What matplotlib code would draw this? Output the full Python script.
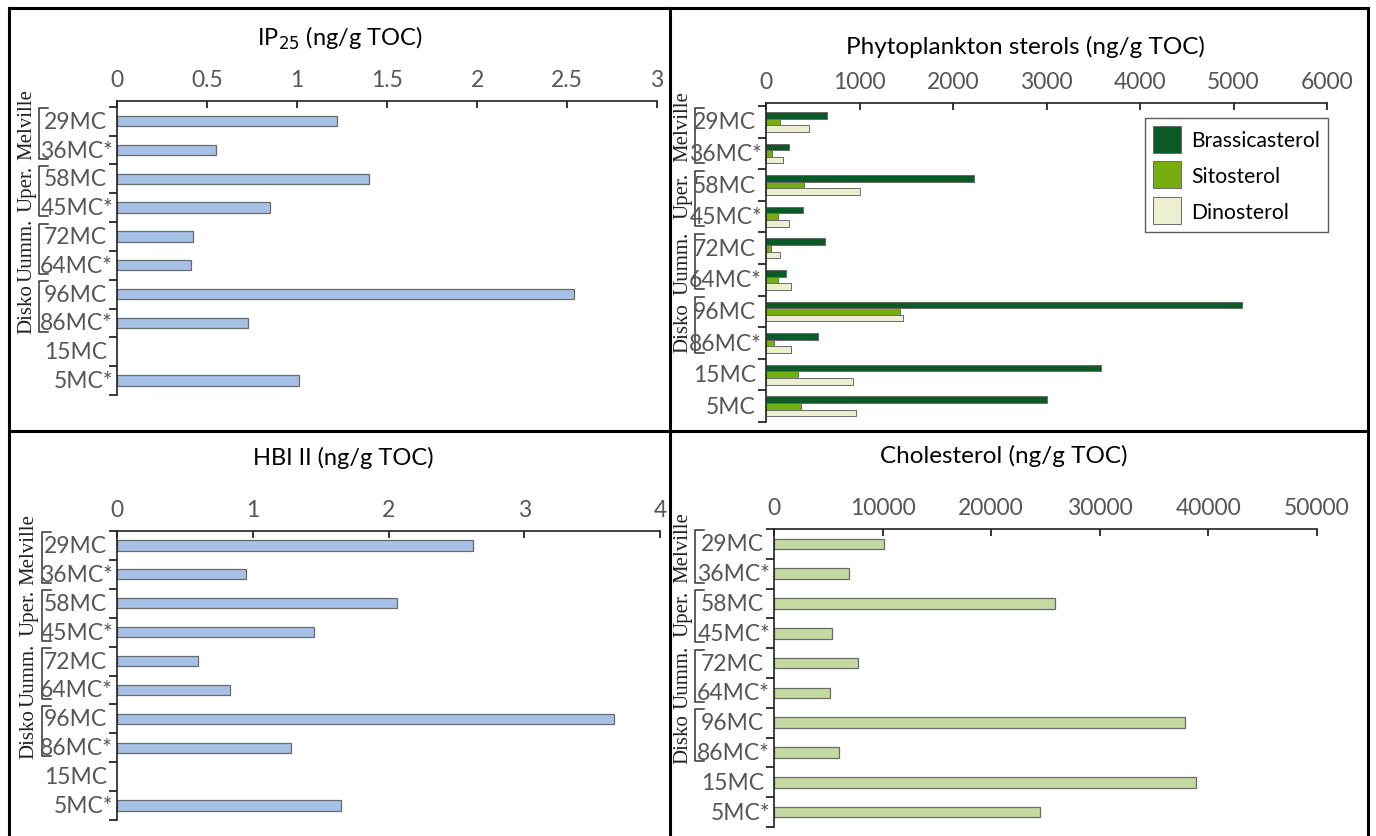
import numpy as np
import matplotlib
matplotlib.use('Agg')
import matplotlib.pyplot as plt
from matplotlib.lines import Line2D
from matplotlib.transforms import blended_transform_factory

# data
sites = ['29MC', '36MC*', '58MC', '45MC*', '72MC', '64MC*', '96MC', '86MC*', '15MC', '5MC*']
sites_tr = ['29MC', '36MC*', '58MC', '45MC*', '72MC', '64MC*', '96MC', '86MC*', '15MC', '5MC']
groups = [('Melville', 0, 1), ('Uper.', 2, 3), ('Uumm.', 4, 5), ('Disko', 6, 7)]
group_label_row = [0.1, 2.3, 4.45, 6.5]   # where the rotated names sit

ip25 = [1.22, 0.55, 1.40, 0.85, 0.42, 0.41, 2.54, 0.73, np.nan, 1.01]
hbi2 = [2.62, 0.95, 2.06, 1.45, 0.60, 0.83, 3.66, 1.28, np.nan, 1.65]
brassica = [652, 246, 2220, 392, 634, 214, 5090, 556, 3586, 3005]
sito = [146, 64, 406, 128, 50, 128, 1429, 86, 342, 374]
dino = [456, 178, 1008, 242, 146, 263, 1461, 263, 926, 958]
chol = [10140, 6940, 25900, 5370, 7770, 5190, 37880, 6020, 38900, 24450]

W, H = 1376, 837
plt.rcParams['font.family'] = ['Lato', 'DejaVu Sans']
fig = plt.figure(figsize=(W/100, H/100), dpi=100)

def px_axes(l, r, t, b):
    ax = fig.add_axes([l/W, 1-b/H, (r-l)/W, (b-t)/H])
    ax.left_px = l
    return ax

def style(ax, labels, xmax, xticks, xticklabels, top):
    ax.set_xlim(0, xmax)
    ax.set_ylim(9.5, top)
    for s in ['right', 'bottom']:
        ax.spines[s].set_visible(False)
    for s in ['top', 'left']:
        ax.spines[s].set_linewidth(1.2)
        ax.spines[s].set_color('#222222')
    ax.xaxis.tick_top()
    ax.set_xticks(xticks)
    ax.set_xticklabels(xticklabels)
    ax.tick_params(axis='x', direction='in', length=5, width=1.1, pad=8,
                   labelsize=16.5, labelcolor='#555555')
    ax.set_yticks(range(len(labels)))
    ax.set_yticklabels([])
    ax.tick_params(axis='y', which='major', length=0)
    ax.set_yticks(np.arange(-0.5, len(labels)), minor=True)
    ax.tick_params(axis='y', which='minor', direction='out', length=6, width=1.1)
    # site labels, the asterisk hangs past the right edge
    tr = blended_transform_factory(fig.transFigure, ax.transData)
    for i, lab in enumerate(labels):
        xr = ax.left_px - (4 if lab.endswith('*') else 10)
        ax.text(xr/W, i, lab, transform=tr, ha='right', va='center',
                fontsize=16.5, color='#555555')

def brackets(ax, xpx, xlab):
    tr = blended_transform_factory(fig.transFigure, ax.transData)
    x0, x1 = xpx/W, (xpx+9)/W
    for (name, g0, g1), ly in zip(groups, group_label_row):
        ya, yb = g0-0.45, g1+0.3
        ax.plot([x1, x0, x0, x1], [ya, ya, yb, yb], color='#333333', lw=1.1,
                transform=tr, clip_on=False)
        ax.text(xlab/W, ly, name, transform=tr, rotation=90,
                ha='center', va='center', fontsize=15, color='#222222',
                family='Liberation Serif')

y = np.arange(len(sites))
blue = '#a7c0e6'
edge = '#6a6a6a'

# IP25
ax1 = px_axes(117, 657, 102, 396)
ax1.barh(y, ip25, height=0.36, color=blue, edgecolor=edge, lw=0.9)
style(ax1, sites, 3, [0, 0.5, 1, 1.5, 2, 2.5, 3], ['0', '0.5', '1', '1.5', '2', '2.5', '3'], -0.7)
brackets(ax1, 39, 27)
fig.text(340/W, 1-38/H, 'IP$_{25}$ (ng/g TOC)', ha='center', va='center', fontsize=17)

# phytoplankton sterols
ax2 = px_axes(766, 1327, 104, 423)
hb = 0.21
ax2.barh(y-hb, brassica, height=hb, color='#0b5a28', edgecolor=edge, lw=0.7, label='Brassicasterol')
ax2.barh(y, sito, height=hb, color='#77ae0f', edgecolor=edge, lw=0.7, label='Sitosterol')
ax2.barh(y+hb, dino, height=hb, color='#edf0d0', edgecolor=edge, lw=0.7, label='Dinosterol')
style(ax2, sites_tr, 6000, range(0, 6001, 1000), [str(v) for v in range(0, 6001, 1000)], -0.6)
brackets(ax2, 695, 683)
fig.text(1025/W, 1-47/H, 'Phytoplankton sterols (ng/g TOC)', ha='center', va='center', fontsize=17.5)
leg = ax2.legend(loc='upper right', bbox_to_anchor=(1328/W, 1-119/H), bbox_transform=fig.transFigure,
                 fontsize=15.2, frameon=True, fancybox=False, borderaxespad=0, borderpad=0.37,
                 handlelength=1.33, handleheight=1.59, labelspacing=0.41, handletextpad=0.5)
leg.get_frame().set_edgecolor('#333333')
leg.get_frame().set_linewidth(1.0)

# HBI II
ax3 = px_axes(117, 660, 532, 821)
ax3.barh(y, hbi2, height=0.35, color=blue, edgecolor=edge, lw=0.9)
style(ax3, sites, 4, [0, 1, 2, 3, 4], ['0', '1', '2', '3', '4'], -0.5)
brackets(ax3, 42, 29)
fig.text(343/W, 1-458/H, 'HBI II (ng/g TOC)', ha='center', va='center', fontsize=17)

# cholesterol
ax4 = px_axes(774, 1317, 530, 828)
ax4.barh(y, chol, height=0.36, color='#c5daa1', edgecolor=edge, lw=0.9)
style(ax4, sites, 50000, range(0, 50001, 10000), [str(v) for v in range(0, 50001, 10000)], -0.5)
brackets(ax4, 695, 683)
fig.text(1004/W, 1-456/H, 'Cholesterol (ng/g TOC)', ha='center', va='center', fontsize=17.5)

# panel frame
for xs, ys in [([9, 1368], [9, 9]), ([9, 9], [9, 837]), ([1368, 1368], [9, 837]),
               ([670, 670], [9, 837]), ([9, 1368], [432, 432])]:
    fig.add_artist(Line2D([v/W for v in xs], [1-v/H for v in ys], color='black', lw=2.2))

fig.savefig('out.png', dpi=100)
